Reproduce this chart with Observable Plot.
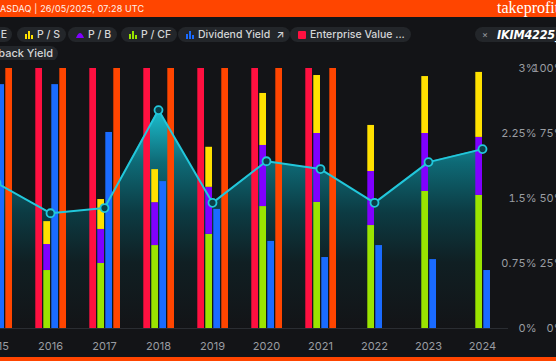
<!DOCTYPE html>
<html><head><meta charset="utf-8">
<script src="https://cdn.jsdelivr.net/npm/d3@7"></script>
<script src="https://cdn.jsdelivr.net/npm/@observablehq/plot@0.6"></script>
<style>
html,body{margin:0;padding:0;background:#131417;overflow:hidden;width:556px;height:361px;font-family:Inter,"Noto Sans",sans-serif;}
#header{position:relative;height:17px;background:#ff4500;overflow:hidden;}
#header .src{position:absolute;left:-7px;top:3px;font-size:9px;line-height:11px;color:#fff4ee;letter-spacing:0.15px;white-space:nowrap;}
#header .brand{position:absolute;left:497px;top:0px;font-family:"Liberation Serif",serif;font-size:16px;line-height:16px;color:#fff;white-space:nowrap;}
#legend{position:relative;height:43px;overflow:hidden;}
.chip{position:absolute;height:15px;border-radius:8px;background:#23262a;color:#d4d5d7;font-size:10.5px;line-height:15px;white-space:nowrap;display:flex;align-items:center;gap:4px;padding:0 6px 0 8px;box-sizing:border-box;font-weight:500;}
.chip svg{display:block;flex:none;}
#chart{display:block;height:297px;}
#chart svg{overflow:hidden;}
#footer{height:4px;background:#ff4500;}
.hand{font-family:"Liberation Sans Narrow","DejaVu Sans Condensed",sans-serif;font-stretch:condensed;font-style:italic;font-weight:700;color:#fff;font-size:12.5px;letter-spacing:-0.2px;}
</style>
</head><body>
<div id="header"><div class="src">NASDAQ | 26/05/2025, 07:28 UTC</div><div class="brand">takeprofit</div></div>
<div id="legend"></div>
<div id="chart"></div>
<div id="footer"></div>
<script>
// ---- data ----
const years = [2015, 2016, 2017, 2018, 2019, 2020, 2021, 2022, 2023, 2024];
// line series, in % (left axis, 0–3%)
const peLine = [1.68, 1.33, 1.39, 2.52, 1.45, 1.93, 1.84, 1.45, 1.92, 2.07];
// bar series, in % of the right axis (0–100%)
const pcfValues = [null, 22.3, 25.0, 31.9, 36.2, 46.9, 48.5, 39.6, 52.7, 51.2];
const pbValues  = [null, 10.0, 13.1, 16.5, 18.1, 23.5, 26.5, 20.8, 22.3, 22.3];
const psValues  = [null, 8.8, 11.5, 12.7, 15.4, 20.0, 22.3, 17.7, 21.9, 25.0];
const dividendYield = [93.8, 93.8, 75.4, 56.5, 45.8, 33.5, 27.3, 31.9, 26.5, 22.3];
const enterpriseValue = [100, 100, 100, 100, 100, 100, 100, null, null, null];
const buybackYield = [100, 100, 100, 100, 100, 100, 100, null, null, null];
const yTicks = [0, 25, 50, 75, 100];
const leftTickLabels = ["0%", "0.75%", "1.5%", "2.25%", "3%"];
const rightTickLabels = ["0%", "25%", "50%", "75%", "100%"];
const legendItems = ["P / E", "P / S", "P / B", "P / CF", "Dividend Yield", "Enterprise Value ...", "Buyback Yield"];
const stackSeries = ["P / CF", "P / B", "P / S"];
const stackColors = ["#9ae400", "#8000ff", "#ffe100"];

// ---- legend ----
const barIcon = c => `<svg width="8" height="8" viewBox="0 0 8 8" fill="${c}"><rect x="0" y="3" width="2" height="5"/><rect x="3" y="0" width="2" height="8"/><rect x="6" y="4" width="2" height="4"/></svg>`;
const humpIcon = c => `<svg width="8" height="7" viewBox="0 0 8 7" fill="${c}"><path d="M0 7 Q4 -3 8 7Z"/></svg>`;
const sqIcon = c => `<svg width="8" height="8" viewBox="0 0 8 8"><rect width="8" height="8" rx="1" fill="${c}"/></svg>`;
const lineIcon = c => `<svg width="8" height="8" viewBox="0 0 8 8"><path d="M0 7 L3 3 L5 5 L8 1" stroke="${c}" fill="none" stroke-width="1.5"/></svg>`;
const legend = document.getElementById("legend");
function chip(html, style){ const d=document.createElement("div"); d.className="chip"; d.innerHTML=html; Object.assign(d.style, style); legend.appendChild(d); return d; }
chip(lineIcon("#22c7db")+`<span>${legendItems[0]}</span>`, {right:"544px", top:"10px", paddingRight:"5px"});
chip(barIcon("#ffe100")+`<span>${legendItems[1]}</span>`, {left:"17px", top:"10px"});
chip(humpIcon("#8000ff")+`<span>${legendItems[2]}</span>`, {left:"68px", top:"10px"});
chip(barIcon("#9ae400")+`<span>${legendItems[3]}</span>`, {left:"121px", top:"10px"});
chip(barIcon("#1a6bff")+`<span>${legendItems[4]}</span><span style="margin-left:2px">↗</span>`, {left:"178px", top:"10px"});
chip(sqIcon("#ff1040")+`<span>${legendItems[5]}</span>`, {left:"290px", top:"10px"});
chip(`<span style="color:#8a8d92;font-size:9px">×</span><span class="hand">IKIM4225_2025</span>`, {left:"475px", top:"10px", gap:"9px", paddingLeft:"7px"});
chip(barIcon("#ff4500")+`<span style="font-size:11px">${legendItems[6]}</span>`, {right:"498px", top:"29px", paddingRight:"5px"});

// ---- chart ----
const rowsFor = arr => years.map((year, i) => ({year, value: arr[i]})).filter(d => d.value != null);
const lineRows = rowsFor(peLine);
const stackRows = [];
years.forEach((year, i) => {
  [pcfValues, pbValues, psValues].forEach((arr, k) => {
    if (arr[i] != null) stackRows.push({year, series: stackSeries[k], value: arr[i]});
  });
});
const toRight = d => d.value / 3 * 100;

const defs = () => {
  const s = d3.create("svg:defs");
  const g = s.append("linearGradient").attr("id", "peGrad").attr("x1", 0).attr("x2", 0).attr("y1", 0).attr("y2", 1);
  [[0, "#1cc0d0"], [0.24, "#0e6a76"], [0.47, "#0c3b43"], [0.7, "#101f23"], [1, "#131417"]].forEach(([o, c]) =>
    g.append("stop").attr("offset", o).attr("stop-color", c));
  return s.node();
};

const plot = Plot.plot({
  width: 556, height: 297,
  marginTop: 8, marginBottom: 29, marginLeft: 0, marginRight: 48,
  style: {background: "transparent", color: "#9a9da2", fontSize: "11px", fontFamily: "Inter, 'Noto Sans', sans-serif"},
  x: {type: "band", domain: years, range: [-31, 509], padding: 0, label: null},
  y: {domain: [0, 100], label: null},
  color: {domain: stackSeries, range: stackColors},
  marks: [
    defs,
    Plot.areaY(lineRows, {x: "year", y: toRight, fill: "url(#peGrad)"}),
    Plot.ruleY([0], {stroke: "#2a2d32"}),
    Plot.barY(rowsFor(enterpriseValue), {x: "year", y: "value", fill: "#ff1040", insetLeft: 12.3, insetRight: 35}),
    Plot.barY(stackRows, {x: "year", y: "value", fill: "series", insetLeft: 20.3, insetRight: 27}),
    Plot.barY(rowsFor(dividendYield), {x: "year", y: "value", fill: "#1a6bff", insetLeft: 28.3, insetRight: 19}),
    Plot.barY(rowsFor(buybackYield), {x: "year", y: "value", fill: "#ff4500", insetLeft: 36.3, insetRight: 11}),
    Plot.line(lineRows, {x: "year", y: toRight, stroke: "#22c7db", strokeWidth: 2}),
    Plot.dot(lineRows, {x: "year", y: toRight, r: 4, stroke: "#22c7db", strokeWidth: 1.8, fill: "#0b3f48"}),
    Plot.axisX({tickSize: 0, tickPadding: 14, fill: "#9a9da2", tickFormat: d => String(d)}),
    Plot.axisY({anchor: "right", ticks: yTicks, tickSize: 0, tickPadding: 28, textAnchor: "end", fill: "#9a9da2", tickFormat: d => leftTickLabels[yTicks.indexOf(d)]}),
    Plot.axisY({anchor: "right", ticks: yTicks, tickSize: 0, tickPadding: 56, textAnchor: "end", fill: "#9a9da2", tickFormat: d => rightTickLabels[yTicks.indexOf(d)]})
  ]
});
document.getElementById("chart").appendChild(plot);
</script>
</body></html>
